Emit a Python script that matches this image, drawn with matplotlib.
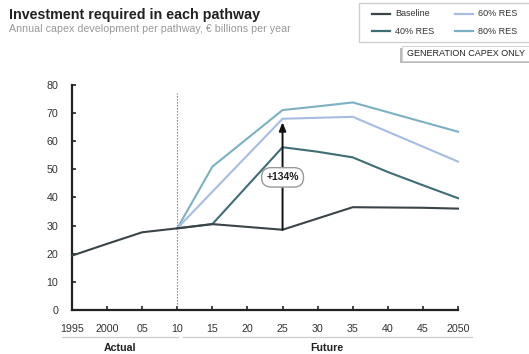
import matplotlib
matplotlib.use("Agg")
import matplotlib.pyplot as plt
from matplotlib.patches import Rectangle
from matplotlib.lines import Line2D

plt.rcParams['font.family'] = ['Liberation Sans', 'DejaVu Sans']

# Annual capex per pathway, EUR billions per year
baseline_years = [1995, 2000, 2005, 2010, 2015, 2025, 2035, 2045, 2050]
baseline_vals = [19.3, 23.5, 27.6, 29.0, 30.5, 28.5, 36.5, 36.3, 36.0]

res40_years = [2010, 2015, 2025, 2030, 2035, 2040, 2045, 2050]
res40_vals = [29.0, 30.5, 57.8, 56.2, 54.2, 49.0, 44.3, 39.7]

res60_years = [2010, 2015, 2025, 2035, 2050]
res60_vals = [29.0, 42.0, 67.9, 68.6, 52.7]

res80_years = [2010, 2015, 2025, 2030, 2035, 2050]
res80_vals = [29.0, 50.9, 71.0, 72.3, 73.7, 63.3]

increase_pct = 134
increase_year = 2025

tick_years = [1995, 2000, 2005, 2010, 2015, 2020, 2025, 2030, 2035, 2040, 2045, 2050]
tick_labels = ["1995", "2000", "05", "10", "15", "20", "25", "30", "35", "40", "45", "2050"]
y_ticks = [0, 10, 20, 30, 40, 50, 60, 70, 80]

series = [
    ("Baseline", baseline_years, baseline_vals, "#3b4448"),
    ("40% RES", res40_years, res40_vals, "#3f6d76"),
    ("60% RES", res60_years, res60_vals, "#a6bde3"),
    ("80% RES", res80_years, res80_vals, "#7cb0c3"),
]

W, H = 529, 354
fig = plt.figure(figsize=(W / 100, H / 100), dpi=100)


def fx(px):
    return px / W


def fy(py):
    return 1 - py / H


ax = fig.add_axes([fx(72), fy(310), fx(458) - fx(72), fy(84.7) - fy(310)])
ax.set_xlim(1995, 2050)
ax.set_ylim(0, 80)

for name, xs, ys, col in series[::-1]:
    ax.plot(xs, ys, color=col, lw=1.5, solid_joinstyle='miter', clip_on=False, zorder=3)

# 2010 split between actual and future
ax.plot([2010, 2010], [0, 77], color="#777777", lw=0.8, ls=(0, (1.2, 1.5)), zorder=2)

# Increase arrow at 2025
base_val = baseline_vals[baseline_years.index(increase_year)]
top_val = base_val * (1 + increase_pct / 100)
ax.annotate("", xy=(increase_year, top_val), xytext=(increase_year, base_val),
            arrowprops=dict(arrowstyle="-|>,head_length=0.5,head_width=0.2",
                            color="#111111", lw=1.4, shrinkA=0, shrinkB=0), zorder=4)
ax.text(increase_year, 47.1, f"+{increase_pct}%", ha="center", va="center",
        fontsize=7.5, fontweight="bold", color="#222222", zorder=5,
        bbox=dict(boxstyle="round,pad=0.45,rounding_size=0.9", fc="white",
                  ec="#999999", lw=1.0))

for s in ["top", "right"]:
    ax.spines[s].set_visible(False)
for s in ["left", "bottom"]:
    ax.spines[s].set_linewidth(1.6)
    ax.spines[s].set_color("#222222")

ax.set_yticks(y_ticks)
ax.set_xticks(tick_years)
ax.set_xticklabels(tick_labels)
ax.tick_params(axis="both", direction="in", length=3, width=1.2, color="#222222",
               labelsize=7.7, labelcolor="#333333")
ax.tick_params(axis="x", pad=10)
ax.tick_params(axis="y", pad=10)

# Period brackets under the axis
fig.add_artist(Line2D([fx(62), fx(178)], [fy(337), fy(337)], color="#cccccc", lw=0.9))
fig.add_artist(Line2D([fx(183), fx(472)], [fy(337), fy(337)], color="#cccccc", lw=0.9))
fig.text(fx(120), fy(348), "Actual", ha="center", va="center", fontsize=7.7,
         fontweight="bold", color="#222222")
fig.text(fx(327), fy(348), "Future", ha="center", va="center", fontsize=7.7,
         fontweight="bold", color="#222222")

# Titles
fig.text(fx(9), fy(15), "Investment required in each pathway", ha="left", va="center",
         fontsize=10.3, fontweight="bold", color="#222222")
fig.text(fx(9), fy(29), "Annual capex development per pathway, \u20ac billions per year",
         ha="left", va="center", fontsize=7.7, color="#999999")

# Legend panel
fig.add_artist(Rectangle((fx(359), fy(42)), fx(540) - fx(359), fy(3) - fy(42),
                         transform=fig.transFigure, fill=False, ec="#cccccc", lw=0.9))
legend_pos = [(372, 14), (372, 31), (455, 14), (455, 31)]
for (name, xs, ys, col), (lx, ly) in zip(series, legend_pos):
    fig.add_artist(Line2D([fx(lx), fx(lx + 18)], [fy(ly), fy(ly)], color=col, lw=1.6))
    fig.text(fx(lx + 23), fy(ly), name, ha="left", va="center", fontsize=6.5,
             color="#333333")

# Scope tag with drop shadow
fig.add_artist(Rectangle((fx(400), fy(63)), fx(532) - fx(400), fy(48) - fy(63),
                         transform=fig.transFigure, fc="#bbbbbb", ec="none"))
fig.add_artist(Rectangle((fx(402), fy(61)), fx(530) - fx(402), fy(46) - fy(61),
                         transform=fig.transFigure, fc="white", ec="#cccccc", lw=0.6))
fig.text(fx(466), fy(54), "GENERATION CAPEX ONLY", ha="center", va="center",
         fontsize=6.5, color="#222222")

fig.savefig("out.png", dpi=100)
